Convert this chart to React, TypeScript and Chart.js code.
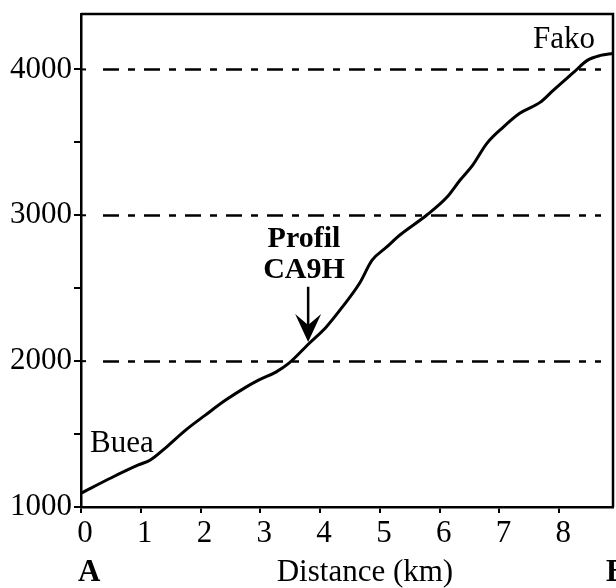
import React, { useEffect, useRef } from "react";
import { Chart, registerables } from "chart.js";

Chart.register(...registerables);

// Profile A-B: distance (km) vs elevation (m)
const distanceKm = [0, 0.5, 0.96, 1.16, 1.41, 1.75, 2.08, 2.42, 2.76, 2.97, 3.26, 3.48, 3.82, 4.1, 4.37, 4.66, 4.87, 5.11, 5.33, 5.78, 6.12, 6.34, 6.55, 6.79, 7.06, 7.34, 7.68, 7.9, 8.24, 8.47, 8.69, 8.9];
const elevationM = [1095, 1199, 1288, 1322, 1404, 1527, 1630, 1733, 1822, 1870, 1925, 1986, 2123, 2233, 2370, 2534, 2692, 2781, 2863, 3000, 3123, 3240, 3342, 3493, 3603, 3699, 3774, 3856, 3979, 4062, 4096, 4110];

const xTickValues = [0, 1, 2, 3, 4, 5, 6, 7, 8];
const xExtraTick = 9;
const yTickValues = [1000, 1500, 2000, 2500, 3000, 3500, 4000];
const dashedLevels = [2000, 3000, 4000];

const X_MIN = 0;
const X_MAX = 8.9;
const Y_MIN = 1000;
const Y_MAX = 4380;

const placeLabels = [
  { text: "Buea", x: 0.15, y: 1377, align: "left" },
  { text: "Fako", x: 8.6, y: 4147, align: "right" },
];
const profilLabel = { lines: ["Profil", "CA9H"], x: 3.73, y: [2783, 2570] };
const profilArrow = { x: 3.8, yFrom: 2510, yTo: 2132 };
const axisTitle = "Distance (km)";
const endA = "A";
const endB = "B";

const SERIF = "'Liberation Serif', 'Times New Roman', serif";

const decorPlugin = {
  id: "decor",
  afterDraw(chart: any) {
    const ctx = chart.ctx;
    const xs = chart.scales.x;
    const ys = chart.scales.y;
    const ca = chart.chartArea;
    ctx.save();

    // dashed reference levels
    ctx.strokeStyle = "#000";
    ctx.lineWidth = 2.5;
    ctx.setLineDash([16, 9, 7, 9]);
    for (const lv of dashedLevels) {
      const py = Math.round(ys.getPixelForValue(lv)) + 0.5;
      ctx.beginPath();
      ctx.moveTo(ca.left + 22, py);
      ctx.lineTo(ca.right - 12, py);
      ctx.stroke();
    }
    ctx.setLineDash([]);

    // top and right border of the box
    ctx.lineWidth = 2.5;
    ctx.beginPath();
    ctx.moveTo(ca.left, ca.top);
    ctx.lineTo(ca.right, ca.top);
    ctx.lineTo(ca.right, ca.bottom);
    ctx.stroke();

    // inward parts of the major y ticks
    ctx.lineWidth = 2;
    for (const v of yTickValues) {
      if (v % 1000 !== 0) continue;
      const py = ys.getPixelForValue(v);
      ctx.beginPath();
      ctx.moveTo(ca.left, py);
      ctx.lineTo(ca.left + 5, py);
      ctx.stroke();
    }

    ctx.fillStyle = "#000";
    ctx.textBaseline = "alphabetic";

    // place labels
    ctx.font = `31px ${SERIF}`;
    for (const l of placeLabels) {
      ctx.textAlign = l.align as CanvasTextAlign;
      ctx.fillText(l.text, xs.getPixelForValue(l.x), ys.getPixelForValue(l.y));
    }

    // Profil CA9H
    ctx.font = `bold 30px ${SERIF}`;
    ctx.textAlign = "center";
    profilLabel.lines.forEach((t, i) => {
      ctx.fillText(t, xs.getPixelForValue(profilLabel.x), ys.getPixelForValue(profilLabel.y[i]));
    });

    // arrow
    const ax = xs.getPixelForValue(profilArrow.x);
    const ay1 = ys.getPixelForValue(profilArrow.yFrom);
    const ay2 = ys.getPixelForValue(profilArrow.yTo);
    ctx.lineWidth = 2.5;
    ctx.beginPath();
    ctx.moveTo(ax, ay1);
    ctx.lineTo(ax, ay2 - 10);
    ctx.stroke();
    ctx.beginPath();
    ctx.moveTo(ax, ay2);
    ctx.lineTo(ax - 13, ay2 - 28);
    ctx.lineTo(ax, ay2 - 17);
    ctx.lineTo(ax + 13, ay2 - 28);
    ctx.closePath();
    ctx.fill();

    // extra tick label 9 (cut off at the edge)
    ctx.font = `31px ${SERIF}`;
    ctx.textAlign = "center";
    ctx.fillText(String(xExtraTick), xs.getPixelForValue(xExtraTick) + 4, ca.bottom + 34);

    // axis title
    ctx.fillText(axisTitle, xs.getPixelForValue(4.75), ca.bottom + 74);

    // A and B
    ctx.font = `bold 31px ${SERIF}`;
    ctx.textAlign = "left";
    ctx.fillText(endA, xs.getPixelForValue(0) - 3, ca.bottom + 74);
    ctx.fillText(endB, xs.getPixelForValue(xExtraTick) - 13, ca.bottom + 74);

    ctx.restore();
  },
};

export default function App() {
  const ref = useRef<HTMLCanvasElement>(null);
  useEffect(() => {
    if (!ref.current) return;
    const chart = new Chart(ref.current, {
      type: "line",
      data: {
        datasets: [
          {
            data: distanceKm.map((d, i) => ({ x: d, y: elevationM[i] })),
            borderColor: "#000",
            borderWidth: 3,
            pointRadius: 0,
            cubicInterpolationMode: "monotone",
            fill: false,
          },
        ],
      },
      options: {
        animation: false,
        responsive: false,
        devicePixelRatio: 1,
        layout: { padding: { top: 14, right: 3, left: 0, bottom: 0 } },
        plugins: { legend: { display: false }, tooltip: { enabled: false }, title: { display: false } },
        scales: {
          x: {
            type: "linear",
            min: X_MIN,
            max: X_MAX,
            afterBuildTicks: (s: any) => {
              s.ticks = xTickValues.map((v) => ({ value: v }));
            },
            afterFit: (s: any) => {
              s.height = 81;
              s.paddingLeft = 0;
              s.paddingRight = 0;
            },
            grid: { drawOnChartArea: false, drawTicks: true, tickLength: 6, color: "#000", lineWidth: 2 },
            border: { display: true, color: "#000", width: 2.5 },
            ticks: {
              color: "#000",
              font: { family: SERIF, size: 31 },
              padding: 2,
              labelOffset: 4,
              maxRotation: 0,
              autoSkip: false,
              callback: (v: any) => String(v),
            },
          },
          y: {
            type: "linear",
            min: Y_MIN,
            max: Y_MAX,
            afterBuildTicks: (s: any) => {
              s.ticks = yTickValues.map((v) => ({ value: v }));
            },
            afterFit: (s: any) => {
              s.width = 81;
              s.paddingTop = 0;
              s.paddingBottom = 0;
            },
            grid: { drawOnChartArea: false, drawTicks: true, tickLength: 7, color: "#000", lineWidth: 2 },
            border: { display: true, color: "#000", width: 2.5 },
            ticks: {
              color: "#000",
              font: { family: SERIF, size: 31 },
              padding: 2,
              autoSkip: false,
              callback: (v: any) => (Number(v) % 1000 === 0 ? String(v) : ""),
            },
          },
        },
      },
      plugins: [decorPlugin],
    });
    return () => chart.destroy();
  }, []);
  return (
    <div style={{ position: "fixed", left: 0, top: 0, width: 616, height: 588, overflow: "hidden", background: "#fff" }}>
      <canvas ref={ref} width={616} height={588} style={{ display: "block", width: 616, height: 588 }} />
    </div>
  );
}
